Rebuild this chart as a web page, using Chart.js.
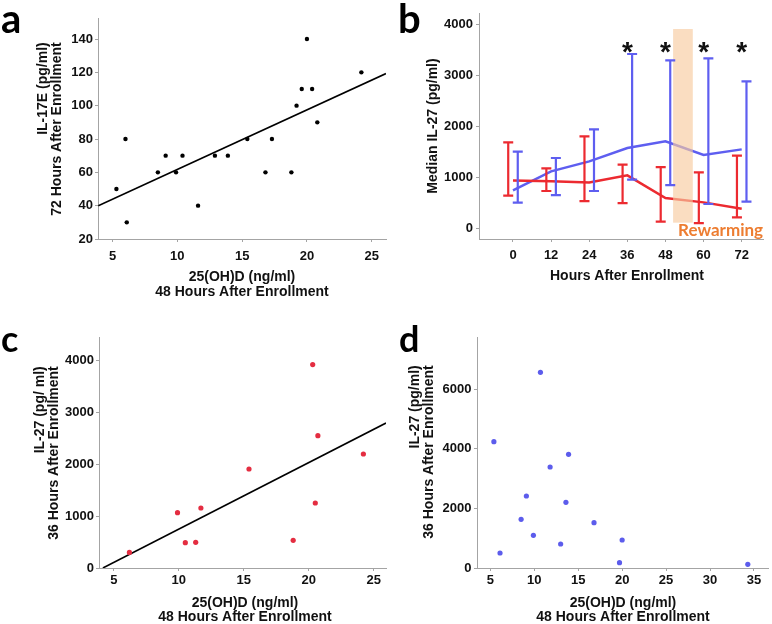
<!DOCTYPE html>
<html>
<head>
<meta charset="utf-8">
<script src="https://cdn.jsdelivr.net/npm/chart.js@4.4.1/dist/chart.umd.min.js"></script>
<style>
  body { margin: 0; background: #fff; }
  #wrap { position: relative; width: 772px; height: 624px; background: #fff; }
  canvas { position: absolute; }
</style>
</head>
<body>
<div id="wrap">
  <canvas id="chartA" width="390" height="310" style="left:0;top:0"></canvas>
  <canvas id="chartB" width="382" height="310" style="left:390px;top:0"></canvas>
  <canvas id="chartC" width="390" height="314" style="left:0;top:310px"></canvas>
  <canvas id="chartD" width="382" height="314" style="left:390px;top:310px"></canvas>
</div>
<script>
// panel a - IL-17E at 72h vs 25(OH)D at 48h
const aVitD = [5.3, 6.0, 6.1, 8.5, 9.1, 9.9, 10.4, 11.6, 12.9, 13.9, 15.4, 16.8, 17.3, 18.8, 19.2, 19.6, 20.0, 20.4, 20.8, 24.2];
const aIL17E = [50, 80, 30, 60, 70, 60, 70, 40, 70, 70, 80, 60, 80, 60, 100, 110, 140, 110, 90, 120];
const aFitX = [3.9, 26.1];
const aFitY = [40, 119.3];
const aXTicks = [5, 10, 15, 20, 25];
const aYTicks = [20, 40, 60, 80, 100, 120, 140];

// panel b - median IL-27 over time
const hours = [0, 12, 24, 36, 48, 60, 72];
const redMedian = [947, 928, 908, 1046, 601, 516, 392];
const redLow = [647, 739, 542, 503, 137, 111, 222];
const redHigh = [1692, 1183, 1810, 1255, 1209, 1105, 1431];
const blueMedian = [752, 1124, 1320, 1582, 1712, 1444, 1555];
const blueLow = [510, 660, 739, 961, 856, 484, 529];
const blueHigh = [1510, 1386, 1948, 3425, 3301, 3340, 2889];
const bYTicks = [0, 1000, 2000, 3000, 4000];
const starHours = [36, 48, 60, 72];
const starLevel = 3600;
const rewarmHours = [50.4, 56.6];
const rewarmLevels = [118, 3915];

// panel c - IL-27 at 36h vs 25(OH)D, red group
const cVitD = [6.2, 9.9, 10.5, 11.3, 11.7, 15.4, 18.8, 20.3, 20.5, 20.7, 24.2];
const cIL27 = [300, 1066, 488, 494, 1156, 1907, 533, 3917, 1252, 2549, 2196];
const cFitX = [4.16, 25.94];
const cFitY = [0, 2793];
const cXTicks = [5, 10, 15, 20, 25];
const cYTicks = [0, 1000, 2000, 3000, 4000];

// panel d - IL-27 at 36h vs 25(OH)D, blue group
const dVitD = [5.4, 6.1, 8.5, 9.1, 9.9, 10.7, 11.8, 13.0, 13.6, 13.9, 16.8, 19.7, 20.0, 34.3];
const dIL27 = [4243, 504, 1634, 2418, 1097, 6571, 3392, 806, 2205, 3817, 1522, 179, 940, 123];
const dXTicks = [5, 10, 15, 20, 25, 30, 35];
const dYTicks = [0, 2000, 4000, 6000];


const FONT = "'Liberation Sans', Arial, sans-serif";
const GREY = '#a4a4a4';
const RED = '#ec2a30';
const BLUE = '#5e5ef0';
const BAR_SHIFT = 1.5; // hours, error bars drawn beside the tick

Chart.defaults.font.family = FONT;

function pts(xs, ys) {
    return xs.map((x, i) => ({x: x, y: ys[i]}));
}

// box = fixed scale thickness so the plot area lands where it should
function axisOpts(side, box, min, max, tickValues, pad) {
    return {
        type: 'linear',
        min: min,
        max: max,
        afterBuildTicks: s => { s.ticks = tickValues.map(v => ({value: v})); },
        afterFit: s => { if (side === 'x') s.height = box; else s.width = box; },
        grid: {drawOnChartArea: false, drawTicks: true, tickLength: 3, color: GREY, lineWidth: 1},
        border: {color: GREY, width: 1},
        ticks: {
            color: '#111',
            padding: pad,
            autoSkip: false,
            maxRotation: 0,
            font: {size: 13, weight: 'bold'},
            callback: v => String(v)
        }
    };
}

// letters and axis titles
function makeDecor(cfg) {
    return {
        id: 'decor',
        afterDraw(chart) {
            const ctx = chart.ctx;
            ctx.save();
            ctx.fillStyle = '#000';
            ctx.font = `bold ${cfg.letterSize}px Lato`;
            ctx.textAlign = 'left';
            ctx.textBaseline = 'alphabetic';
            ctx.fillText(cfg.letter, cfg.letterAt[0], cfg.letterAt[1]);

            ctx.fillStyle = '#111';
            ctx.font = `bold 14px ${FONT}`;
            ctx.textBaseline = 'middle';
            ctx.textAlign = 'center';
            cfg.xTitle.forEach((t, i) => ctx.fillText(t, cfg.xTitleX, cfg.xTitleY[i]));

            const widest = Math.max(...cfg.yTitle.map(t => ctx.measureText(t).width));
            ctx.textAlign = 'right';
            cfg.yTitle.forEach((t, i) => {
                ctx.save();
                ctx.translate(cfg.yTitleX[i], cfg.yTitleY - widest / 2);
                ctx.rotate(-Math.PI / 2);
                ctx.fillText(t, 0, 0);
                ctx.restore();
            });
            ctx.restore();
        }
    };
}

function makeChart(id, size, area, ranges, datasets, decor, extra) {
    const [xr, yr] = ranges;
    return new Chart(document.getElementById(id), {
        type: 'scatter',
        data: {datasets: datasets},
        options: {
            responsive: false,
            animation: false,
            devicePixelRatio: 1,
            layout: {padding: {left: 0, top: area[1], right: size[0] - area[2], bottom: 0}},
            scales: {
                x: axisOpts('x', size[1] - area[3], xr[0], xr[1], xr[2], xr[3]),
                y: axisOpts('y', area[0], yr[0], yr[1], yr[2], yr[3])
            },
            plugins: {legend: {display: false}, tooltip: {enabled: false}}
        },
        plugins: [makeDecor(decor)].concat(extra || [])
    });
}

function fitLine(xs, ys) {
    return {data: pts(xs, ys), showLine: true, borderColor: '#000', borderWidth: 1.6, pointRadius: 0};
}


// panel a
makeChart('chartA', [390, 310], [98, 18, 387, 239], [
    [3.88, 26.1, aXTicks, 7],
    [20, 152.6, aYTicks, 2]
], [
    {data: pts(aVitD, aIL17E), backgroundColor: '#000', borderColor: '#000', pointRadius: 2.2, borderWidth: 0},
    fitLine(aFitX, aFitY)
], {
    letter: 'a', letterSize: 40, letterAt: [1, 33],
    yTitle: ['IL-17E (pg/ml)', '72 Hours After Enrollment'], yTitleX: [43, 57], yTitleY: 129,
    xTitle: ['25(OH)D (ng/ml)', '48 Hours After Enrollment'], xTitleX: 242, xTitleY: [277, 292]
});


// panel b
function drawBars(ctx, x, y, shift, lows, highs, color) {
    ctx.strokeStyle = color;
    ctx.lineWidth = 2.2;
    hours.forEach((h, i) => {
        const px = x.getPixelForValue(h + shift);
        const lo = y.getPixelForValue(lows[i]);
        const hi = y.getPixelForValue(highs[i]);
        ctx.beginPath();
        ctx.moveTo(px, lo); ctx.lineTo(px, hi);
        ctx.moveTo(px - 5, lo); ctx.lineTo(px + 5, lo);
        ctx.moveTo(px - 5, hi); ctx.lineTo(px + 5, hi);
        ctx.stroke();
    });
}

const panelBExtras = {
    id: 'panelB',
    afterDatasetsDraw(chart) {
        const {ctx, scales: {x, y}} = chart;
        ctx.save();
        const bx0 = x.getPixelForValue(rewarmHours[0]);
        const bx1 = x.getPixelForValue(rewarmHours[1]);
        const byTop = y.getPixelForValue(rewarmLevels[1]);
        const byBot = y.getPixelForValue(rewarmLevels[0]);
        ctx.fillStyle = 'rgba(247,203,160,0.65)';
        ctx.fillRect(bx0, byTop, bx1 - bx0, byBot - byTop);

        drawBars(ctx, x, y, -BAR_SHIFT, redLow, redHigh, RED);
        drawBars(ctx, x, y, BAR_SHIFT, blueLow, blueHigh, BLUE);

        ctx.fillStyle = '#111';
        ctx.font = `bold 28px ${FONT}`;
        ctx.textAlign = 'center';
        ctx.textBaseline = 'alphabetic';
        starHours.forEach(h => {
            ctx.fillText('*', x.getPixelForValue(h), y.getPixelForValue(starLevel) + 16);
        });

        ctx.fillStyle = '#ed7d31';
        ctx.font = 'bold 17px Lato';
        ctx.textAlign = 'left';
        ctx.textBaseline = 'middle';
        ctx.fillText('Rewarming', bx0 + 5, y.getPixelForValue(0) + 2);
        ctx.restore();
    }
};

makeChart('chartB', [382, 310], [89, 13, 373, 239], [
    [-10.7, 78.7, hours, 6],
    [-202, 4229, bYTicks, 3]
], [
    {data: pts(hours, redMedian), showLine: true, borderColor: RED, borderWidth: 2.5, pointRadius: 0},
    {data: pts(hours, blueMedian), showLine: true, borderColor: BLUE, borderWidth: 2.5, pointRadius: 0}
], {
    letter: 'b', letterSize: 40, letterAt: [8, 33],
    yTitle: ['Median IL-27 (pg/ml)'], yTitleX: [43], yTitleY: 126,
    xTitle: ['Hours After Enrollment'], xTitleX: 237, xTitleY: [276]
}, [panelBExtras]);


// panel c
makeChart('chartC', [390, 314], [99, 27, 390, 258], [
    [3.86, 25.94, cXTicks, 2],
    [0, 4449, cYTicks, 2]
], [
    {data: pts(cVitD, cIL27), backgroundColor: '#e42d41', borderColor: '#e42d41', pointRadius: 2.6, borderWidth: 0},
    fitLine(cFitX, cFitY)
], {
    letter: 'c', letterSize: 36, letterAt: [1, 42],
    yTitle: ['IL-27 (pg/ ml)', '36 Hours After Enrollment'], yTitleX: [40, 54], yTitleY: 143,
    xTitle: ['25(OH)D (ng/ml)', '48 Hours After Enrollment'], xTitleX: 245, xTitleY: [293, 307]
});


// panel d
makeChart('chartD', [382, 314], [87, 27, 378, 258], [
    [3.48, 36.6, dXTicks, 2],
    [0, 7757, dYTicks, 2.5]
], [
    {data: pts(dVitD, dIL27), backgroundColor: '#5c5cec', borderColor: '#5c5cec', pointRadius: 2.6, borderWidth: 0}
], {
    letter: 'd', letterSize: 36, letterAt: [9, 42],
    yTitle: ['IL-27 (pg/ml)', '36 Hours After Enrollment'], yTitleX: [25, 39], yTitleY: 142,
    xTitle: ['25(OH)D (ng/ml)', '48 Hours After Enrollment'], xTitleX: 233, xTitleY: [293, 307]
});
</script>
</body>
</html>
